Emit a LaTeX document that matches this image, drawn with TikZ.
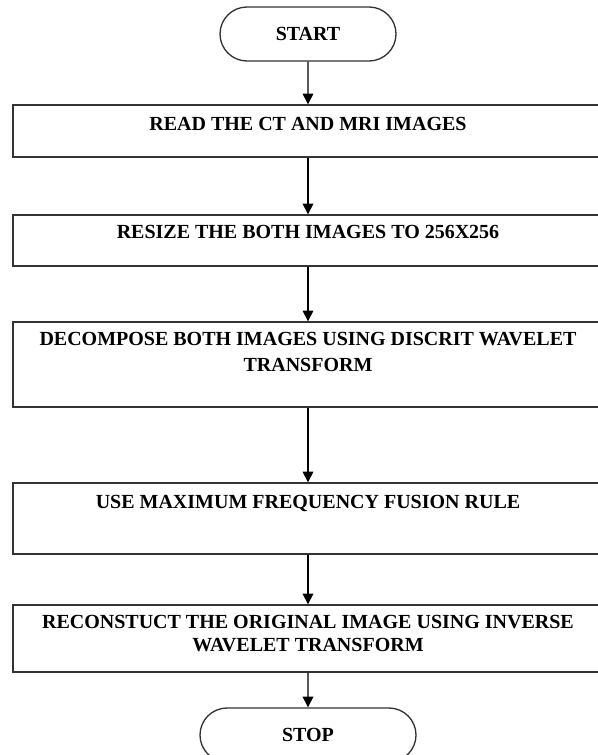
\documentclass[tikz,border=0pt]{standalone}
\usepackage{fontspec}
\setmainfont{Liberation Serif}
\usetikzlibrary{positioning, shapes.misc, arrows.meta}

% text of a step, set at the top of its box
\newcommand{\steptext}[3]{\parbox[c][#1][t]{442.5pt}{\centering\vspace*{#2}#3}}

\begin{document}
\begin{tikzpicture}[
		font=\fontsize{15}{20}\selectfont\bfseries,
		terminal/.style={draw=black!80, line width=1pt, rounded rectangle, minimum width=#1, minimum height=40.5pt, inner sep=0pt},
		stepbox/.style={draw=black!80, line width=1pt, inner sep=0pt},
		flow/.style={line width=0.9pt, -{Triangle[length=8pt,width=8pt]}}
	]
		\useasboundingbox (0,0) rectangle (448.5pt,-566.25pt);
		\node[terminal=132pt] (start) at (231pt,-25.5pt) {START};
		\node[below=32pt of start] (read) [stepbox] {\steptext{39pt}{9pt}{READ THE CT AND MRI IMAGES}};
		\node[below=42.5pt of read] (resize) [stepbox] {\steptext{38.25pt}{7.5pt}{RESIZE THE BOTH IMAGES TO 256X256}};
		\node[below=41pt of resize] (dwt) [stepbox] {\steptext{63.75pt}{7.5pt}{DECOMPOSE BOTH IMAGES USING DISCRIT WAVELET\\ TRANSFORM}};
		\node[below=56pt of dwt] (fuse) [stepbox] {\steptext{53.25pt}{9pt}{USE MAXIMUM FREQUENCY FUSION RULE}};
		\node[below=37.25pt of fuse] (recon) [stepbox] {\steptext{50.25pt}{7.5pt}{RECONSTUCT THE ORIGINAL IMAGE USING INVERSE\\[-2.75pt] WAVELET TRANSFORM}};
		\node[below=26pt of recon, terminal=162pt] (stop) {STOP};
		
		\draw[flow] (start) -- (read);
		\draw[flow] (read) -- (resize);
		\draw[flow] (resize) -- (dwt);
		\draw[flow] (dwt) -- (fuse);
		\draw[flow] (fuse) -- (recon);
		\draw[flow] (recon) -- (stop);
%		\draw[flow] (recon.south) -- ++(0,-1);
	\end{tikzpicture}
\end{document}
